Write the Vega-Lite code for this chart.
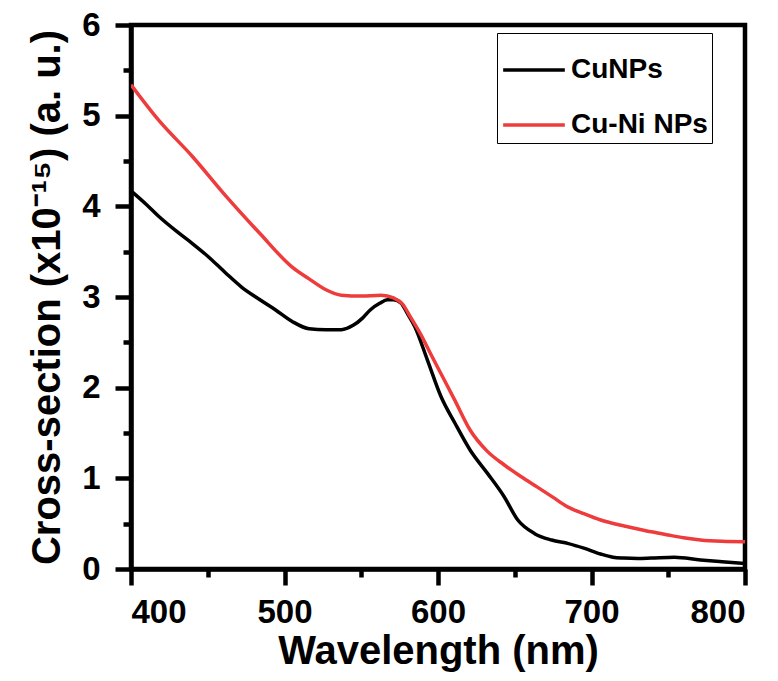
{
  "$schema": "https://vega.github.io/schema/vega-lite/v6.json",
  "width": 614,
  "height": 544,
  "autosize": {"type": "none"},
  "padding": {"left": 131, "top": 25, "right": 33, "bottom": 112},
  "background": "white",
  "config": {
    "font": "Liberation Sans",
    "view": {"stroke": "black", "strokeWidth": 4.5},
    "axis": {"grid": false}
  },
  "data": {
    "values": [
      {"wl": 400, "v": 4.17, "s": "CuNPs"},
      {"wl": 410, "v": 4.02, "s": "CuNPs"},
      {"wl": 418, "v": 3.89, "s": "CuNPs"},
      {"wl": 430, "v": 3.72, "s": "CuNPs"},
      {"wl": 440, "v": 3.59, "s": "CuNPs"},
      {"wl": 450, "v": 3.45, "s": "CuNPs"},
      {"wl": 462, "v": 3.26, "s": "CuNPs"},
      {"wl": 472, "v": 3.11, "s": "CuNPs"},
      {"wl": 484, "v": 2.97, "s": "CuNPs"},
      {"wl": 494, "v": 2.86, "s": "CuNPs"},
      {"wl": 505, "v": 2.73, "s": "CuNPs"},
      {"wl": 516, "v": 2.65, "s": "CuNPs"},
      {"wl": 527, "v": 2.64, "s": "CuNPs"},
      {"wl": 537, "v": 2.64, "s": "CuNPs"},
      {"wl": 545, "v": 2.69, "s": "CuNPs"},
      {"wl": 551, "v": 2.77, "s": "CuNPs"},
      {"wl": 556, "v": 2.86, "s": "CuNPs"},
      {"wl": 562, "v": 2.93, "s": "CuNPs"},
      {"wl": 567, "v": 2.97, "s": "CuNPs"},
      {"wl": 571, "v": 2.97, "s": "CuNPs"},
      {"wl": 576, "v": 2.93, "s": "CuNPs"},
      {"wl": 580, "v": 2.82, "s": "CuNPs"},
      {"wl": 585, "v": 2.67, "s": "CuNPs"},
      {"wl": 593, "v": 2.31, "s": "CuNPs"},
      {"wl": 602, "v": 1.9, "s": "CuNPs"},
      {"wl": 611, "v": 1.61, "s": "CuNPs"},
      {"wl": 621, "v": 1.31, "s": "CuNPs"},
      {"wl": 632, "v": 1.06, "s": "CuNPs"},
      {"wl": 643, "v": 0.8, "s": "CuNPs"},
      {"wl": 652, "v": 0.54, "s": "CuNPs"},
      {"wl": 663, "v": 0.39, "s": "CuNPs"},
      {"wl": 674, "v": 0.32, "s": "CuNPs"},
      {"wl": 685, "v": 0.28, "s": "CuNPs"},
      {"wl": 695, "v": 0.23, "s": "CuNPs"},
      {"wl": 706, "v": 0.165, "s": "CuNPs"},
      {"wl": 714, "v": 0.13, "s": "CuNPs"},
      {"wl": 721, "v": 0.12, "s": "CuNPs"},
      {"wl": 730, "v": 0.115, "s": "CuNPs"},
      {"wl": 739, "v": 0.12, "s": "CuNPs"},
      {"wl": 754, "v": 0.13, "s": "CuNPs"},
      {"wl": 771, "v": 0.1, "s": "CuNPs"},
      {"wl": 785, "v": 0.08, "s": "CuNPs"},
      {"wl": 800, "v": 0.06, "s": "CuNPs"},
      {"wl": 400, "v": 5.34, "s": "Cu-Ni NPs"},
      {"wl": 418, "v": 4.95, "s": "Cu-Ni NPs"},
      {"wl": 440, "v": 4.55, "s": "Cu-Ni NPs"},
      {"wl": 462, "v": 4.11, "s": "Cu-Ni NPs"},
      {"wl": 484, "v": 3.7, "s": "Cu-Ni NPs"},
      {"wl": 505, "v": 3.33, "s": "Cu-Ni NPs"},
      {"wl": 516, "v": 3.2, "s": "Cu-Ni NPs"},
      {"wl": 527, "v": 3.08, "s": "Cu-Ni NPs"},
      {"wl": 537, "v": 3.02, "s": "Cu-Ni NPs"},
      {"wl": 550, "v": 3.01, "s": "Cu-Ni NPs"},
      {"wl": 563, "v": 3.02, "s": "Cu-Ni NPs"},
      {"wl": 571, "v": 2.99, "s": "Cu-Ni NPs"},
      {"wl": 577, "v": 2.92, "s": "Cu-Ni NPs"},
      {"wl": 582, "v": 2.78, "s": "Cu-Ni NPs"},
      {"wl": 589, "v": 2.58, "s": "Cu-Ni NPs"},
      {"wl": 595, "v": 2.38, "s": "Cu-Ni NPs"},
      {"wl": 603, "v": 2.12, "s": "Cu-Ni NPs"},
      {"wl": 611, "v": 1.86, "s": "Cu-Ni NPs"},
      {"wl": 621, "v": 1.53, "s": "Cu-Ni NPs"},
      {"wl": 632, "v": 1.3, "s": "Cu-Ni NPs"},
      {"wl": 643, "v": 1.15, "s": "Cu-Ni NPs"},
      {"wl": 654, "v": 1.02, "s": "Cu-Ni NPs"},
      {"wl": 665, "v": 0.9, "s": "Cu-Ni NPs"},
      {"wl": 675, "v": 0.79, "s": "Cu-Ni NPs"},
      {"wl": 684, "v": 0.69, "s": "Cu-Ni NPs"},
      {"wl": 695, "v": 0.61, "s": "Cu-Ni NPs"},
      {"wl": 706, "v": 0.54, "s": "Cu-Ni NPs"},
      {"wl": 717, "v": 0.49, "s": "Cu-Ni NPs"},
      {"wl": 728, "v": 0.45, "s": "Cu-Ni NPs"},
      {"wl": 739, "v": 0.41, "s": "Cu-Ni NPs"},
      {"wl": 750, "v": 0.375, "s": "Cu-Ni NPs"},
      {"wl": 760, "v": 0.345, "s": "Cu-Ni NPs"},
      {"wl": 771, "v": 0.32, "s": "Cu-Ni NPs"},
      {"wl": 785, "v": 0.305, "s": "Cu-Ni NPs"},
      {"wl": 800, "v": 0.3, "s": "Cu-Ni NPs"}
    ]
  },
  "mark": {"type": "line", "strokeWidth": 3.5, "interpolate": "monotone", "clip": true},
  "encoding": {
    "x": {
      "field": "wl", "type": "quantitative",
      "scale": {"domain": [400, 800], "nice": false, "zero": false},
      "axis": {
        "orient": "bottom", "values": [400, 450, 500, 550, 600, 650, 700, 750, 800],
        "format": ".0f",
        "labelExpr": "datum.value % 100 === 0 ? datum.label : ''",
        "title": "Wavelength (nm)", "titleFontSize": 40, "titleFontWeight": "bold", "titleColor": "black", "titlePadding": 2,
        "labelFontSize": 33, "labelFontWeight": "bold", "labelColor": "black", "labelPadding": 11,
        "tickSize": {"condition": {"test": "datum.value % 100 === 0", "value": 16}, "value": 8},
        "tickWidth": 4.5, "tickColor": "black", "domainWidth": 4.5, "domainColor": "black"
      }
    },
    "y": {
      "field": "v", "type": "quantitative",
      "scale": {"domain": [0, 6], "nice": false},
      "axis": {
        "orient": "left", "values": [0, 0.5, 1, 1.5, 2, 2.5, 3, 3.5, 4, 4.5, 5, 5.5, 6],
        "format": ".0f",
        "labelExpr": "datum.value % 1 === 0 ? datum.label : ''",
        "title": "Cross-section (x10⁻¹⁵) (a. u.)", "titleFontSize": 40, "titleFontWeight": "bold", "titleColor": "black", "titlePadding": 14,
        "labelFontSize": 33, "labelFontWeight": "bold", "labelColor": "black", "labelPadding": 15,
        "tickSize": {"condition": {"test": "datum.value % 1 === 0", "value": 16}, "value": 8},
        "tickWidth": 4.5, "tickColor": "black", "domainWidth": 4.5, "domainColor": "black"
      }
    },
    "color": {
      "field": "s", "type": "nominal",
      "scale": {"domain": ["CuNPs", "Cu-Ni NPs"], "range": ["#000000", "#EE3B3B"]},
      "legend": {
        "title": null, "orient": "none", "legendX": 366, "legendY": 8,
        "symbolType": "stroke", "symbolSize": 3800, "symbolStrokeWidth": 3.5,
        "labelFontSize": 28, "labelFontWeight": "bold", "labelColor": "black", "labelLimit": 400,
        "strokeColor": "black", "padding": 4, "rowPadding": 8
      }
    }
  }
}
